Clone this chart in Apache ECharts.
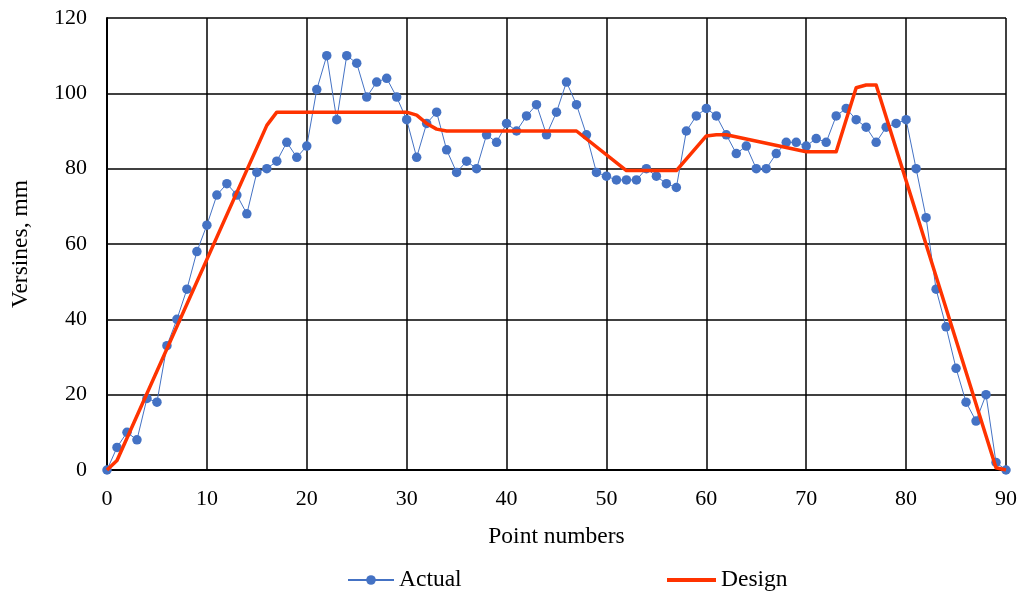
<!DOCTYPE html>
<html>
<head>
<meta charset="utf-8">
<script src="https://cdn.jsdelivr.net/npm/echarts@6/dist/echarts.min.js"></script>
<style>
html,body{margin:0;padding:0;background:#fff;}
#chart{width:1022px;height:593px;}
</style>
</head>
<body>
<div id="chart"></div>
<script>
// Actual versines at point numbers 0..90
const pointNumbers = Array.from({length: 91}, (_, i) => i);
const actualValues = [
  0, 6, 10, 8, 19, 18, 33, 40, 48, 58,
  65, 73, 76, 73, 68, 79, 80, 82, 87, 83,
  86, 101, 110, 93, 110, 108, 99, 103, 104, 99,
  93, 83, 92, 95, 85, 79, 82, 80, 89, 87,
  92, 90, 94, 97, 89, 95, 103, 97, 89, 79,
  78, 77, 77, 77, 80, 78, 76, 75, 90, 94,
  96, 94, 89, 84, 86, 80, 80, 84, 87, 87,
  86, 88, 87, 94, 96, 93, 91, 87, 91, 92,
  93, 80, 67, 48, 38, 27, 18, 13, 20, 2,
  0
];
// Design curve knots
const designX = [0, 1, 16, 17, 30, 31, 32, 33, 34, 47, 52, 57, 60, 61, 62, 70, 73, 75, 76, 77, 89, 90];
const designY = [0, 2.5, 91.5, 95, 95, 94.2, 92, 90.5, 90, 90, 79.5, 79.5, 88.7, 89, 89, 84.5, 84.5, 101.5, 102.2, 102.2, 0.6, 0];
const yTicks = [0, 20, 40, 60, 80, 100, 120];
const xTicks = [0, 10, 20, 30, 40, 50, 60, 70, 80, 90];

const FONT = '"Liberation Serif", "Times New Roman", serif';
const chart = echarts.init(document.getElementById('chart'), null, {renderer: 'canvas'});
chart.setOption({
  animation: false,
  backgroundColor: '#fff',
  textStyle: {fontFamily: FONT, color: '#000'},
  grid: {left: 107, right: 16, top: 18, bottom: 123, containLabel: false},
  legend: [
    {
      data: ['Actual'], left: 342, top: 563, itemWidth: 46, itemHeight: 12, itemGap: 5,
      textStyle: {fontFamily: FONT, fontSize: 23.5, color: '#000'}
    },
    {
      data: [{name: 'Design', icon: 'rect'}], left: 662, top: 563, itemWidth: 49, itemHeight: 4, itemGap: 2,
      textStyle: {fontFamily: FONT, fontSize: 23.5, color: '#000'}
    }
  ],
  xAxis: {
    type: 'value',
    min: xTicks[0], max: xTicks[xTicks.length - 1], interval: 10,
    name: 'Point numbers', nameLocation: 'middle', nameGap: 55,
    nameTextStyle: {fontFamily: FONT, fontSize: 23.5, color: '#000'},
    axisLine: {show: true, lineStyle: {color: '#000', width: 2}},
    axisTick: {show: false},
    axisLabel: {margin: 18, fontFamily: FONT, fontSize: 22, color: '#000'},
    splitLine: {show: true, lineStyle: {color: '#000', width: 1.5}}
  },
  yAxis: {
    type: 'value',
    min: yTicks[0], max: yTicks[yTicks.length - 1], interval: 20,
    name: 'Versines, mm', nameLocation: 'middle', nameGap: 74, nameRotate: 90,
    nameTextStyle: {fontFamily: FONT, fontSize: 23.5, color: '#000'},
    axisLine: {show: true, lineStyle: {color: '#000', width: 2}},
    axisTick: {show: false},
    axisLabel: {margin: 20, fontFamily: FONT, fontSize: 22, color: '#000'},
    splitLine: {show: true, lineStyle: {color: '#000', width: 1.5}}
  },
  series: [
    {
      name: 'Actual',
      type: 'line',
      data: pointNumbers.map((x, i) => [x, actualValues[i]]),
      symbol: 'circle',
      symbolSize: 9.5,
      itemStyle: {color: '#4472C4'},
      lineStyle: {color: '#4472C4', width: 1},
      z: 2
    },
    {
      name: 'Design',
      type: 'line',
      data: designX.map((x, i) => [x, designY[i]]),
      showSymbol: false,
      symbol: 'none',
      itemStyle: {color: '#FF3300'},
      lineStyle: {color: '#FF3300', width: 3.5, join: 'round'},
      z: 3
    }
  ]
});
</script>
</body>
</html>
